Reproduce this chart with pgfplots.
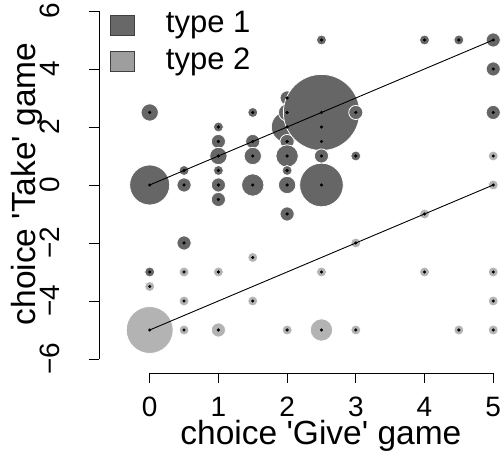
\documentclass[border=0pt]{standalone}
\usepackage{fontspec}
\setmainfont{Liberation Sans}[Ligatures=TeXOff]
\usepackage{pgfplots}
\usepackage{pgfplotstable}
\pgfplotsset{compat=1.18}
\definecolor{t1}{HTML}{666666}
\definecolor{t2}{HTML}{B3B3B3}
\definecolor{l1}{HTML}{686868}
\definecolor{l2}{HTML}{9E9E9E}

\pgfplotstableread{
x y n
0 2.5 3
0 0 16
0 -3 1
0.5 0.5 1
0.5 0 2
0.5 -2 2
1 2 1
1 1.5 2
1 1 3
1 0.5 1
1 0 2
1 -0.5 2
1.5 2.5 1
1.5 1.5 2
1.5 1 3
1.5 0 5
2 2 10
2 3 2
2 2.5 3
2 1.5 2
2 1 5
2 0.5 1
2 0 3
2 -1 2
2.5 2 1
2.5 1.5 1
2.5 2.5 58
2.5 5 1
2.5 1 2
2.5 0 19
3 2.5 2
3 1 1
4 5 1
4.5 5 1
5 5 2
5 4 2
5 2.5 2
}\typeone

\pgfplotstableread{
x y n
0 -3.5 1
0 -5 22
0.5 -3 1
0.5 -4 1
0.5 -5 1
1 -3 1
1 -5 2
1.5 -2.5 1
1.5 -4 1
2 -5 1
2.5 -3 1
2.5 -5 5
3 -2 1
3 -5 1
4 -1 1
4 -3 1
4.5 -5 1
5 1 1
5 0 1
5 -3 1
5 -4 1
5 -5 1
}\typetwo

\begin{document}
\begin{tikzpicture}
\useasboundingbox (0pt,0pt) rectangle (504pt,460pt);
\begin{axis}[
  at={(99pt,87pt)}, anchor=south west,
  scale only axis, width=405pt, height=373pt,
  xmin=-0.738, xmax=5.157, ymin=-6.483, ymax=6.379,
  clip mode=individual,
  axis line style={draw=none},
  xtick={0,1,2,3,4,5},
  ytick={-6,-4,-2,0,2,4,6},
  yticklabels={−6,−4,−2,0,2,4,6},
  xticklabels={0,1,2,3,4,5},
  xtick pos=bottom, ytick pos=left,
  tick align=outside, major tick length=10pt,
  tick style={black, line width=0.8pt},
  xticklabel style={font=\fontsize{28}{33}\selectfont, anchor=base, yshift=-34pt},
  yticklabel style={font=\fontsize{28}{33}\selectfont, xshift=-29pt, rotate=90, anchor=base},
  xlabel={choice 'Give' game},
  ylabel={choice 'Take' game},
  every axis x label/.style={at={(axis description cs:0.548,0)}, anchor=base, yshift=-72pt, font=\fontsize{33.5}{40}\selectfont},
  every axis y label/.style={at={(axis description cs:0,0.507)}, xshift=-63pt, rotate=90, anchor=base, font=\fontsize{33.5}{40}\selectfont},
  legend entries={type 1, type 2},
  legend cell align=left,
  legend image code/.code={\draw[#1] (0pt,-12pt) rectangle (24pt,8pt);},
  legend style={at={(axis description cs:0.027,0.975)}, anchor=north west, draw=none, fill=none, inner sep=0pt,
    font=\fontsize{31}{37}\selectfont, row sep=9.25pt,
    /tikz/every odd column/.append style={column sep=29pt}},
]
\addlegendimage{fill=l1, draw=black!75, line width=0.8pt}
\addlegendimage{fill=l2, draw=black!75, line width=0.8pt}

\draw[black, line width=0.8pt] (axis cs:0,-6.483) -- (axis cs:5,-6.483);
\draw[black, line width=0.8pt] (axis cs:-0.738,-6) -- (axis cs:-0.738,6);

\addplot[forget plot, scatter, only marks, mark=*,
  scatter/use mapped color={draw=white, fill=t1},
  mark options={line width=0.8pt},
  visualization depends on={5*sqrt(\thisrow{n}) \as \rad},
  scatter/@pre marker code/.append style={/tikz/mark size=\rad pt}]
  table[x=x, y=y, meta=n] {\typeone};

\addplot[forget plot, scatter, only marks, mark=*,
  scatter/use mapped color={draw=white, fill=t2},
  mark options={line width=0.8pt},
  visualization depends on={5*sqrt(\thisrow{n}) \as \rad},
  scatter/@pre marker code/.append style={/tikz/mark size=\rad pt}]
  table[x=x, y=y, meta=n] {\typetwo};

\addplot[forget plot, black, line width=0.9pt] coordinates {(0,0) (5,5)};
\addplot[forget plot, black, line width=0.9pt] coordinates {(0,-5) (5,0)};

\addplot[forget plot, only marks, mark=*, mark size=1.4pt, black] table[x=x, y=y] {\typeone};
\addplot[forget plot, only marks, mark=*, mark size=1.4pt, black] table[x=x, y=y] {\typetwo};
\end{axis}
\end{tikzpicture}
\end{document}
